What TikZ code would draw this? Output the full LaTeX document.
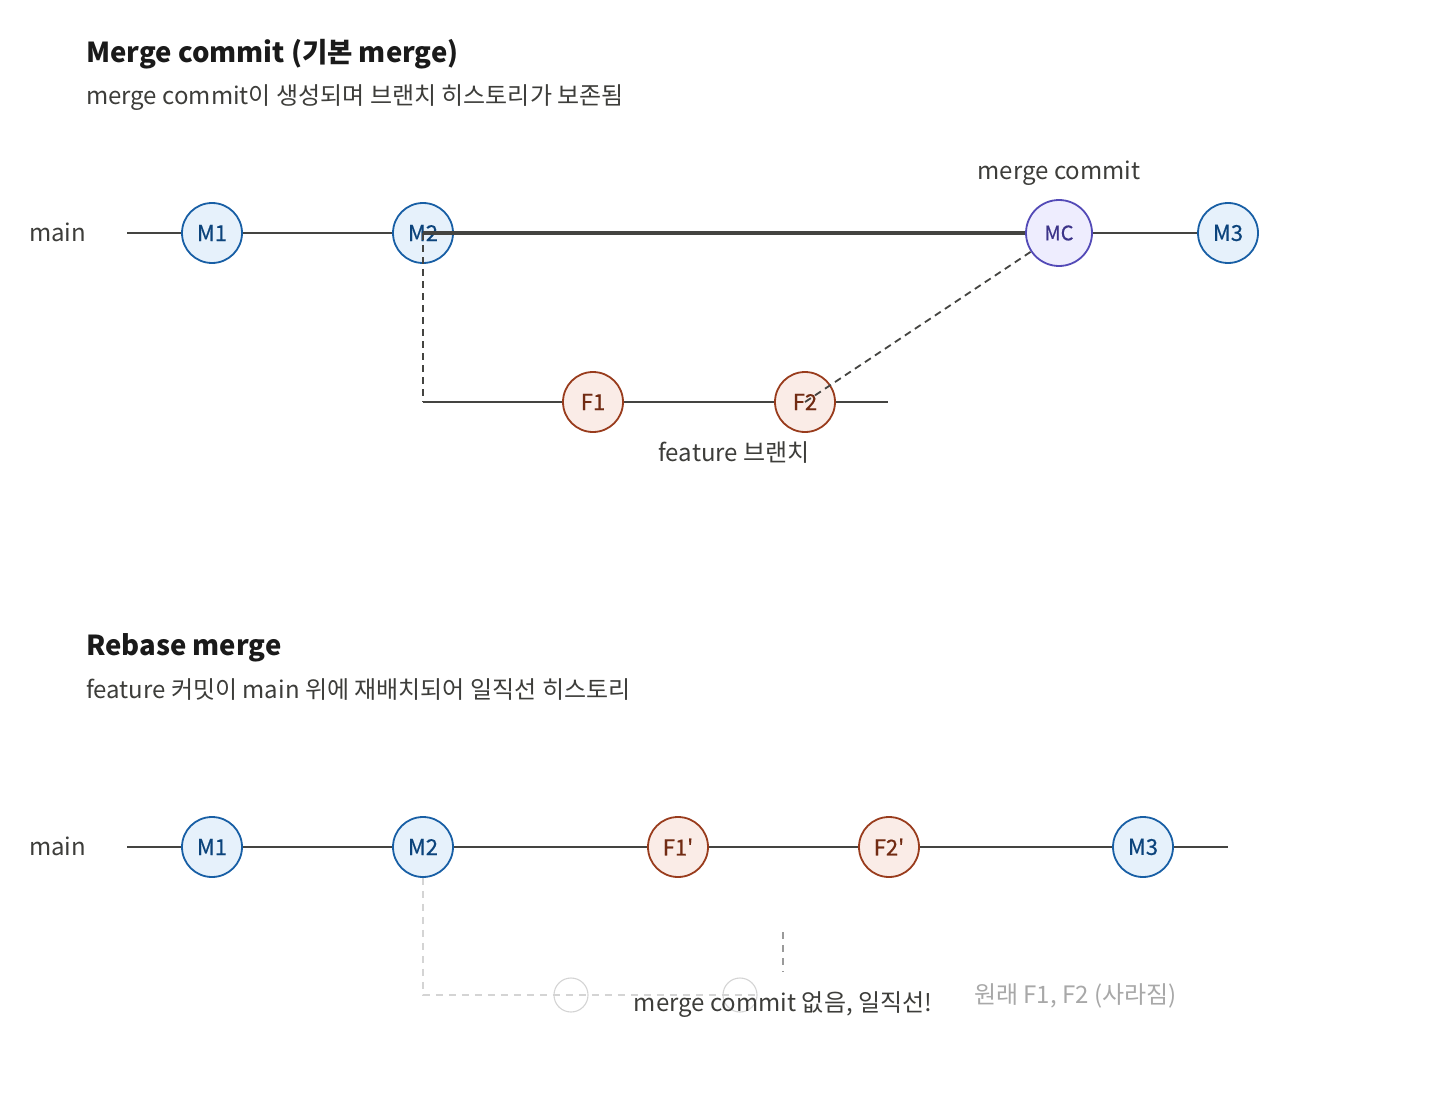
\documentclass[tikz,border=0pt]{standalone}
\usepackage{fontspec}
\setmainfont{Noto Sans CJK KR}
\newfontfamily\nodefont{Noto Sans CJK KR}[Ligatures=TeXOff,FakeBold=0.5]
\definecolor{lineC}{HTML}{444441}
\definecolor{txtC}{HTML}{3D3D3A}
\definecolor{titleC}{HTML}{1A1A1A}
\definecolor{bFill}{HTML}{E6F1FB}
\definecolor{bDraw}{HTML}{185FA5}
\definecolor{bText}{HTML}{0C447C}
\definecolor{oFill}{HTML}{FAECE7}
\definecolor{oDraw}{HTML}{993C1D}
\definecolor{oText}{HTML}{712B13}
\definecolor{pFill}{HTML}{EEEDFE}
\definecolor{pDraw}{HTML}{534AB7}
\definecolor{pText}{HTML}{3C3489}
\definecolor{ghostC}{HTML}{D4D4D4}
\definecolor{ghostV}{HTML}{9A9A9A}
\definecolor{ghostT}{HTML}{A8A8A8}
\tikzset{
  commit/.style={circle,minimum size=60pt,inner sep=0pt,line width=1.8pt,font=\nodefont\fontsize{22}{25}\selectfont},
  bluec/.style={commit,fill=bFill,draw=bDraw,text=bText},
  orc/.style={commit,fill=oFill,draw=oDraw,text=oText},
  purc/.style={commit,minimum size=66pt,fill=pFill,draw=pDraw,text=pText,font=\nodefont\fontsize{20}{23}\selectfont},
  ghost/.style={circle,minimum size=34pt,inner sep=0pt,draw=ghostC,line width=1.1pt},
  branch/.style={draw=lineC,line width=2.8pt},
  thick branch/.style={draw=lineC,line width=3.6pt},
  dash link/.style={draw=lineC,line width=1.8pt,dash pattern=on 7pt off 5pt},
  ghost link/.style={draw=ghostC,line width=1.2pt,dash pattern=on 7pt off 6pt},
  title/.style={anchor=base west,inner sep=0pt,text=titleC,font=\fontsize{27.5}{32}\selectfont\bfseries},
  subtitle/.style={anchor=base west,inner sep=0pt,text=txtC,font=\fontsize{24}{28}\selectfont},
  lbl/.style={anchor=base,inner sep=0pt,text=txtC,font=\fontsize{24}{28}\selectfont},
}
\begin{document}
\begin{tikzpicture}[x=1pt,y=-1pt]
\path[use as bounding box,fill=white] (0,0) rectangle (1440,1102);

% ---------- top section ----------
\node[title] (t1) at (86,63) {Merge commit (기본 merge)};
\node[subtitle] (s1) at (86,105) {merge commit이 생성되며 브랜치 히스토리가 보존됨};
\node[lbl,anchor=base west] (main1) at (29,241) {main};
\node[lbl] (mclbl) at (1059,180) {merge commit};
\node[lbl] (flbl) at (734,461) {feature 브랜치};

\coordinate (a0) at (127,233);
\coordinate (fstart) at (423,402);
\coordinate (fend) at (888,402);

\path (212,233) coordinate (pM1) (423,233) coordinate (pM2) (1059,233) coordinate (pMC) (1228,233) coordinate (pM3)
      (593,402) coordinate (pF1) (805,402) coordinate (pF2);

\draw[branch] (a0) -- (pM1) -- (pM2);
\draw[branch] (pMC) -- (pM3);
\draw[branch] (fstart) -- (fend);

\node[bluec] (M1) at (pM1) {M1};
\node[bluec] (M2) at (pM2) {M2};
\node[purc] (MC) at (pMC) {MC};
\node[bluec] (M3) at (pM3) {M3};
\node[orc] (F1) at (pF1) {F1};
\node[orc] (F2) at (pF2) {F2};

\draw[thick branch] (M2.center) -- (MC.west);
\draw[dash link] (M2.center) -- (fstart);
\draw[dash link] (F2.center) -- (MC);

% ---------- bottom section ----------
\node[title] (t2) at (86,655) {Rebase merge};
\node[subtitle] (s2) at (86,698) {feature 커밋이 main 위에 재배치되어 일직선 히스토리};
\node[lbl,anchor=base west] (main2) at (29,855) {main};

\coordinate (b0) at (127,847);
\coordinate (b1) at (1228,847);
\draw[branch] (b0) -- (b1);

\coordinate (gcorner) at (423,995);
\coordinate (gend) at (760,995);
\coordinate (gv1) at (783,932);
\coordinate (gv2) at (783,972);
\node[ghost] (G1) at (571,995) {};
\node[ghost] (G2) at (740,995) {};

\node[bluec] (N1) at (212,847) {M1};
\node[bluec] (N2) at (423,847) {M2};
\node[orc] (NF1) at (678,847) {F1'};
\node[orc] (NF2) at (889,847) {F2'};
\node[bluec] (N3) at (1143,847) {M3};

\draw[ghost link] (N2.south) -- (gcorner) -- (gend);
\draw[ghost link,draw=ghostV] (gv1) -- (gv2);

\node[lbl] (nomc) at (783,1011) {merge commit 없음, 일직선!};
\node[lbl,anchor=base west,text=ghostT] (orig) at (974,1003) {원래 F1, F2 (사라짐)};
\end{tikzpicture}
\end{document}
